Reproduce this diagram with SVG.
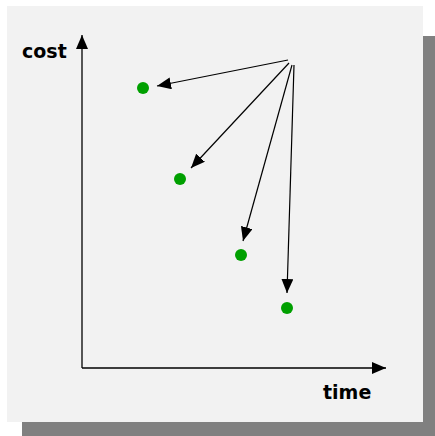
<svg xmlns="http://www.w3.org/2000/svg" width="435" height="436" viewBox="0 0 435 436">
<style>
.lbl{font-family:"DejaVu Sans",sans-serif;font-weight:bold;font-size:19px;fill:#000}
.ax{stroke:#000;stroke-width:1.3;fill:none}
.ar{stroke:#000;stroke-width:1.2;fill:none}
.dot{fill:#00a000}
</style>
<defs>
<marker id="ah" viewBox="0 0 14 12" refX="14" refY="6" markerWidth="14" markerHeight="12" markerUnits="userSpaceOnUse" orient="auto">
<path d="M0,0 L14,6 L0,12 Z" fill="#000"/>
</marker>
</defs>
<rect x="22" y="36" width="413" height="400" fill="#808080"/>
<rect x="7" y="6" width="416" height="416" fill="#f2f2f2"/>
<g id="axes">
<path class="ax" d="M82,368 L82,35" marker-end="url(#ah)"/>
<path class="ax" d="M82,368 L386,368" marker-end="url(#ah)"/>
</g>
<g id="cost"><text class="lbl" x="22" y="58">cost</text></g>
<g id="time"><text class="lbl" x="323" y="399">time</text></g>
<g id="p1"><circle class="dot" cx="143" cy="88" r="6"/></g>
<g id="p2"><circle class="dot" cx="180" cy="179" r="6"/></g>
<g id="p3"><circle class="dot" cx="241" cy="255" r="6"/></g>
<g id="p4"><circle class="dot" cx="287" cy="308" r="6"/></g>
<g id="connectors">
<path class="ar" d="M288,60 L157,86" marker-end="url(#ah)"/>
<path class="ar" d="M289,63 L191,168" marker-end="url(#ah)"/>
<path class="ar" d="M292,65 L243,241" marker-end="url(#ah)"/>
<path class="ar" d="M294,65 L287,293" marker-end="url(#ah)"/>
</g>
</svg>
